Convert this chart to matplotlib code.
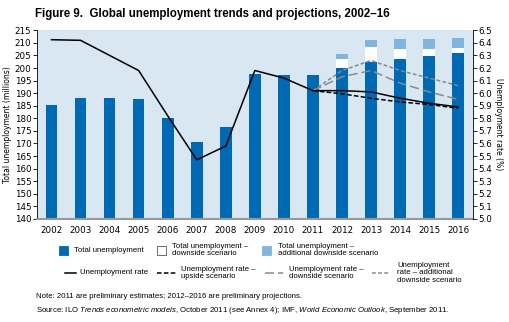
import matplotlib
matplotlib.use("Agg")
import matplotlib.pyplot as plt
from matplotlib.patches import Rectangle
from matplotlib.lines import Line2D

plt.rcParams['font.family'] = ['DejaVu Sans']
plt.rcParams['mathtext.fontset'] = 'custom'
plt.rcParams['mathtext.rm'] = 'Liberation Sans'
plt.rcParams['mathtext.it'] = 'Liberation Sans:italic'

years = ['2002', '2003', '2004', '2005', '2006', '2007', '2008', '2009',
         '2010', '2011', '2012', '2013', '2014', '2015', '2016']

# total unemployment (millions), baseline
total = [185.4, 188.1, 188.1, 187.8, 180.2, 170.7, 176.7, 197.5,
         197.2, 197.2, 200.0, 202.4, 203.6, 204.8, 206.0]
# projection years only (2012-2016)
downside_total = [203.6, 208.4, 207.6, 207.6, 208.0]
add_downside_total = [205.6, 211.1, 211.5, 211.5, 212.0]

# unemployment rate (%)
rate = [6.425, 6.42, 6.30, 6.18, 5.82, 5.47, 5.58, 6.18,
        6.12, 6.02, 6.02, 6.01, 5.96, 5.92, 5.89]
# scenarios from 2011 to 2016
rate_upside = [6.02, 5.995, 5.96, 5.93, 5.91, 5.88]
rate_downside = [6.02, 6.13, 6.18, 6.08, 6.01, 5.95]
rate_add_downside = [6.02, 6.18, 6.26, 6.18, 6.12, 6.06]

dark_blue = '#0069b4'
light_blue = '#80b6dc'
grey = '#8a8a8a'

fig = plt.figure(figsize=(5.09, 3.22), dpi=100)
ax = fig.add_axes([0.0727, 0.320, 0.856, 0.586])
ax.set_facecolor('#d9e7f2')

x = list(range(len(years)))
xp = x[10:]
ax.bar(x, total, width=0.4, color=dark_blue, zorder=2)
ax.bar(xp, [d - t for d, t in zip(downside_total, total[10:])], bottom=total[10:],
       width=0.4, color='white', zorder=2)
ax.bar(xp, [a - d for a, d in zip(add_downside_total, downside_total)], bottom=downside_total,
       width=0.4, color=light_blue, zorder=2)

ax.set_ylim(140, 215)
ax.set_yticks(range(140, 216, 5))
ax.set_xlim(-0.5, 14.5)
ax.set_xticks(x)
ax.set_xticklabels(years)
ax.tick_params(axis='x', length=0, labelsize=6.3, pad=5)
ax.tick_params(axis='y', length=3, width=0.6, labelsize=6.3, pad=1)
for s in ['top', 'right']:
    ax.spines[s].set_visible(False)
ax.spines['left'].set_linewidth(0.6)
ax.spines['bottom'].set_color('#999999')
ax.spines['bottom'].set_linewidth(1.5)
ax.set_ylabel('Total unemployment (millions)', fontsize=5.5, labelpad=2)

ax2 = ax.twinx()
ax2.set_ylim(5.0, 6.5)
ax2.set_yticks([5.0 + 0.1 * i for i in range(16)])
ax2.set_yticklabels(['%.1f' % (5.0 + 0.1 * i) for i in range(16)])
ax2.tick_params(axis='y', length=3, width=0.6, labelsize=6.3, pad=1)
for s in ['top', 'left', 'bottom']:
    ax2.spines[s].set_visible(False)
ax2.spines['right'].set_linewidth(0.6)
ax2.set_ylabel('Unemployment rate (%)', fontsize=5.5, rotation=-90, labelpad=8)

xs = x[9:]
ax2.plot(xs, rate_add_downside, color=grey, lw=1.1, ls=(0, (2.5, 1.5)))
ax2.plot(xs, rate_downside, color=grey, lw=1.1, ls=(0, (6, 2.5)))
ax2.plot(xs, rate_upside, color='black', lw=1.1, ls=(0, (3, 1.5)))
ax2.plot(x, rate, color='black', lw=1.1)

fig.text(0.069, 0.955, 'Figure 9.  Global unemployment trends and projections, 2002\u201316',
         fontsize=8.3, fontweight='bold', family='Liberation Sans', va='center')

# legend, drawn by hand to follow the original layout
W, H = 509.0, 322.0
fs = 5.6
lf = 'Liberation Sans'

def fx(px):
    return px / W

def fy(py):
    return 1 - py / H

def box(x0, yc, fc, ec):
    fig.add_artist(Rectangle((fx(x0), fy(yc + 4.5)), 9 / W, 9 / H,
                             facecolor=fc, edgecolor=ec, lw=0.6, transform=fig.transFigure))

def seg(x0, x1, yc, color, ls):
    fig.add_artist(Line2D([fx(x0), fx(x1)], [fy(yc), fy(yc)], color=color, lw=1.1,
                          ls=ls, transform=fig.transFigure))

def label(px, py, s):
    fig.text(fx(px), fy(py), s, fontsize=fs, family=lf, va='center', linespacing=1.15)

box(59, 250, dark_blue, dark_blue)
label(74, 250, 'Total unemployment')
box(157, 250, 'white', '#555555')
label(172, 250, 'Total unemployment \u2013\ndownside scenario')
box(262, 250, light_blue, light_blue)
label(278, 250, 'Total unemployment \u2013\nadditional downside scenario')

seg(65, 76, 273, 'black', '-')
label(80, 273, 'Unemployment rate')
seg(157, 176, 273, 'black', (0, (3, 1.5)))
label(181, 273, 'Unemployment rate \u2013\nupside scenario')
seg(265, 283, 273, grey, (0, (6, 2.5)))
label(289, 273, 'Unemployment rate \u2013\ndownside scenario')
seg(372, 390, 273, grey, (0, (2.5, 1.5)))
label(397, 273, 'Unemployment\nrate \u2013 additional\ndownside scenario')

label(36, 297, 'Note: 2011 are preliminary estimates; 2012\u20132016 are preliminary projections.')
label(36, 310, 'Source: ILO $\\it{Trends\\ econometric\\ models}$, October 2011 (see Annex 4); IMF, '
      '$\\it{World\\ Economic\\ Outlook}$, September 2011.')

fig.savefig('out.png', dpi=100)
